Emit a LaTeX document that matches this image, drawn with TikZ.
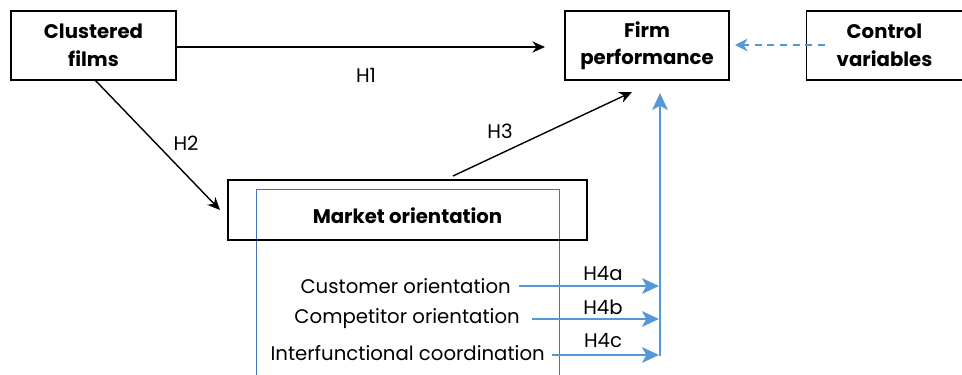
\documentclass[tikz,border=0pt]{standalone}
\usepackage{fontspec}
\setmainfont{Poppins}
\usetikzlibrary{arrows.meta}
\definecolor{hblue}{RGB}{84,152,216}
\definecolor{rblue}{RGB}{70,112,190}
\tikzset{
  varbox/.style={draw, line width=0.9pt, align=center, font=\fontsize{14}{19.5}\selectfont\bfseries, inner sep=0pt},
  hyp/.style={font=\fontsize{14}{15}\selectfont},
  dim/.style={font=\fontsize{14}{15}\selectfont, anchor=east, inner sep=0pt},
  blk/.style={-{Stealth[length=9pt,width=8pt]}, line width=1pt},
  blu/.style={-{Stealth[length=12pt,width=11pt,inset=3pt]}, line width=2pt, hblue},
}
\begin{document}
\begin{tikzpicture}[x=0.025cm,y=-0.025cm]
        \useasboundingbox (0,0) rectangle (962,375);

        \node[varbox, minimum width=165*0.025cm, minimum height=69*0.025cm] (cf) at (93.5,45.5) {Clustered\\films}; %clustered films
        \node[varbox, minimum width=164*0.025cm, minimum height=69*0.025cm] (fp) at (647,45.5) {Firm\\performance}; %firm performance
        \node[varbox, minimum width=156*0.025cm, minimum height=69*0.025cm] (cv) at (884.5,45.5) {Control\\variables}; %control variables

        \draw[rblue, line width=0.6pt] (256,189) rectangle (559,380); %dimensions
        \node[varbox, minimum width=359*0.025cm, minimum height=60*0.025cm] (mo) at (407.5,210) {}; %market orientation
        \node[font=\fontsize{14}{15}\selectfont\bfseries] (motxt) at (407.5,216) {Market orientation};

        \node[dim] (co) at (511,286) {Customer orientation};
        \node[dim] (cp) at (520,319) {Competitor orientation};
        \node[dim] (ic) at (545,353) {Interfunctional coordination};

        \coordinate (h1e) at (545,47);
        \coordinate (h2s) at (95,80);
        \coordinate (h2e) at (220,210);
        \coordinate (h3s) at (453,176);
        \coordinate (h3e) at (632,92);
        \coordinate (fpin) at (660,93);
        \coordinate (base) at (660,356);

        % hypotheses
        \draw[blk] (cf.east |- h1e) -- (h1e);
        \node[hyp] (h1) at (366,75) {H1};
        \draw[blk] (h2s) -- (h2e);
        \node[hyp] (h2) at (186,143) {H2};
        \draw[blk] (h3s) -- (h3e);
        \node[hyp] (h3) at (500,131) {H3};

        \draw[blu] (base) -- (fpin);
        \draw[blu] (519,286) -- (659,286);
        \draw[blu] (532,319) -- (659,319);
        \draw[blu] (552,355) -- (659,355);
        \node[hyp] (h4a) at (603,274) {H4a};
        \node[hyp] (h4b) at (603,307) {H4b};
        \node[hyp] (h4c) at (603,341) {H4c};

        \draw[hblue, line width=1pt, dash pattern=on 5pt off 4pt, -{Stealth[length=9pt,width=9pt]}] (825,45) -- (735,45); %controls
    \end{tikzpicture}
\end{document}
